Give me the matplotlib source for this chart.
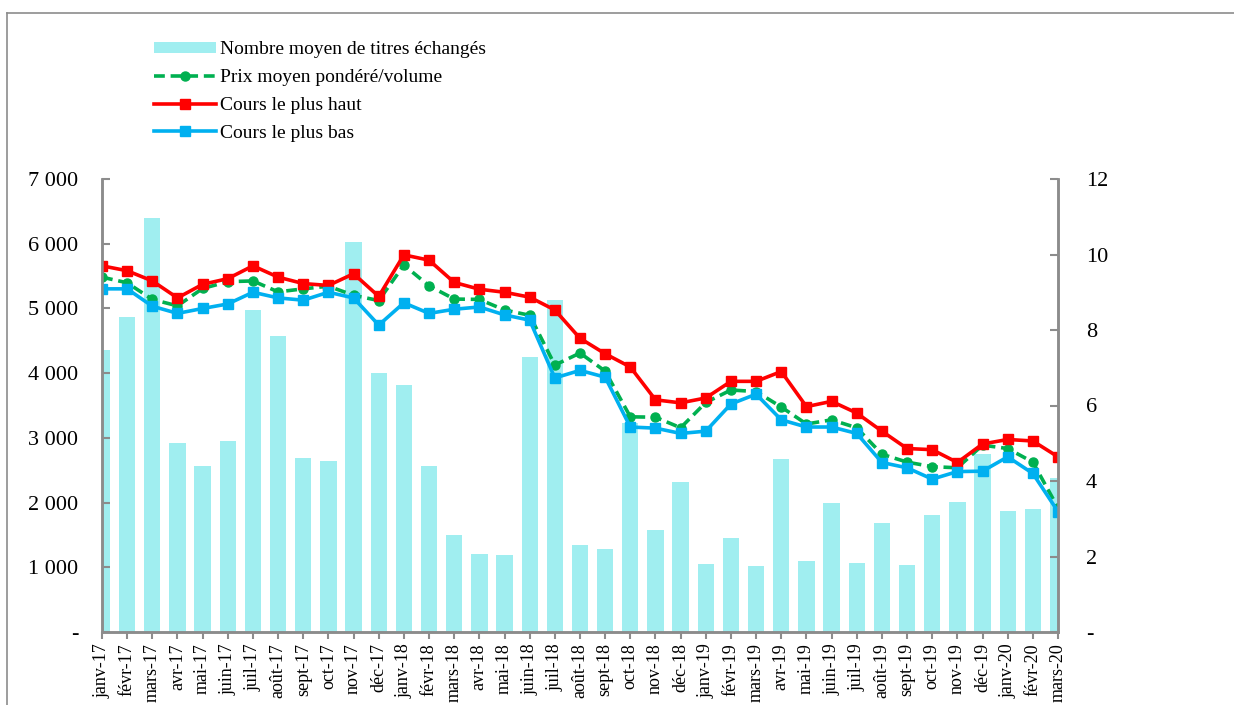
import numpy as np
import matplotlib
matplotlib.use("Agg")
import matplotlib.pyplot as plt
from matplotlib.ticker import FuncFormatter, MultipleLocator
from matplotlib.lines import Line2D
from matplotlib.patches import Patch

plt.rcParams['font.family'] = ['Liberation Serif', 'DejaVu Serif']

# Months (janv-17 .. mars-20)
mois = ["janv-17", "févr-17", "mars-17", "avr-17", "mai-17", "juin-17", "juil-17", "août-17",
        "sept-17", "oct-17", "nov-17", "déc-17",
        "janv-18", "févr-18", "mars-18", "avr-18", "mai-18", "juin-18", "juil-18", "août-18",
        "sept-18", "oct-18", "nov-18", "déc-18",
        "janv-19", "févr-19", "mars-19", "avr-19", "mai-19", "juin-19", "juil-19", "août-19",
        "sept-19", "oct-19", "nov-19", "déc-19",
        "janv-20", "févr-20", "mars-20"]

# Nombre moyen de titres échangés (left axis)
titres = [4360, 4870, 6400, 2920, 2570, 2950, 4980, 4580, 2690, 2640, 6030, 4000,
          3820, 2570, 1500, 1210, 1190, 4250, 5130, 1345, 1285, 3230, 1580, 2320,
          1050, 1450, 1020, 2675, 1100, 1995, 1065, 1685, 1035, 1810, 2010, 2750,
          1870, 1900, 2380]

# Prices (right axis)
prix_moyen = [9.40, 9.25, 8.81, 8.64, 9.10, 9.28, 9.30, 9.01, 9.09, 9.16, 8.92, 8.78,
              9.72, 9.17, 8.82, 8.81, 8.53, 8.39, 7.07, 7.39, 6.91, 5.70, 5.69, 5.41,
              6.08, 6.41, 6.37, 5.96, 5.51, 5.62, 5.41, 4.71, 4.50, 4.38, 4.35, 4.95,
              4.86, 4.50, 3.29]
cours_haut = [9.70, 9.57, 9.30, 8.85, 9.21, 9.36, 9.70, 9.40, 9.23, 9.18, 9.49, 8.89,
              9.99, 9.85, 9.26, 9.08, 9.00, 8.87, 8.53, 7.78, 7.37, 7.02, 6.15, 6.07,
              6.20, 6.64, 6.64, 6.90, 5.97, 6.11, 5.80, 5.32, 4.86, 4.83, 4.49, 4.98,
              5.10, 5.06, 4.64]
cours_bas = [9.09, 9.09, 8.63, 8.44, 8.57, 8.69, 9.00, 8.85, 8.79, 9.00, 8.85, 8.13,
             8.72, 8.44, 8.55, 8.61, 8.40, 8.26, 6.73, 6.93, 6.75, 5.43, 5.40, 5.26,
             5.32, 6.04, 6.30, 5.62, 5.43, 5.43, 5.26, 4.49, 4.35, 4.05, 4.25, 4.26,
             4.64, 4.20, 3.19]

c_bar = "#A0EEF0"
c_vert = "#00B050"
c_rouge = "#FF0000"
c_bleu = "#00B0F0"
c_axe = "#8C8C8C"

fig = plt.figure(figsize=(12.34, 7.05), dpi=100)
ax = fig.add_axes([102 / 1234, 1 - 632 / 705, 956 / 1234, 453 / 705])
ax2 = ax.twinx()

x = np.arange(len(mois))
ax.bar(x, titres, width=0.65, color=c_bar, zorder=1)

ax2.plot(x, prix_moyen, color=c_vert, lw=2.6, ls=(0, (3, 1.6)), marker="o", ms=6.5)
ax2.plot(x, cours_haut, color=c_rouge, lw=2.6, marker="s", ms=7)
ax2.plot(x, cours_bas, color=c_bleu, lw=2.6, marker="s", ms=7)

ax.set_xlim(0, len(mois) - 1)
ax.set_ylim(0, 7000)
ax2.set_ylim(0, 12)
ax.yaxis.set_major_locator(MultipleLocator(1000))
ax2.yaxis.set_major_locator(MultipleLocator(2))


def fmt_gauche(v, pos):
    if v == 0:
        return "-"
    return f"{int(v):,}".replace(",", " ")


def fmt_droite(v, pos):
    if v == 0:
        return "-"
    return f"{int(v)}"


ax.yaxis.set_major_formatter(FuncFormatter(fmt_gauche))
ax2.yaxis.set_major_formatter(FuncFormatter(fmt_droite))

ax.set_xticks(x)
ax.set_xticklabels(mois, rotation=90, fontsize=13)

for a in (ax, ax2):
    a.spines["top"].set_visible(False)
    for s in ("left", "right", "bottom"):
        a.spines[s].set_color(c_axe)
        a.spines[s].set_linewidth(1.8)
ax.tick_params(axis="y", direction="in", length=6, width=1.5, color=c_axe, labelsize=16, pad=17)
ax2.tick_params(axis="y", direction="in", length=6, width=1.5, color=c_axe, labelsize=16, pad=20)
ax.tick_params(axis="x", direction="out", length=5, width=1.5, color=c_axe, pad=3)

# Legend
handles = [
    Patch(facecolor=c_bar, edgecolor="none"),
    Line2D([], [], color=c_vert, lw=2.6, ls=(0, (3, 1.6)), marker="o", ms=6.5),
    Line2D([], [], color=c_rouge, lw=2.6, marker="s", ms=7),
    Line2D([], [], color=c_bleu, lw=2.6, marker="s", ms=7),
]
labels = ["Nombre moyen de titres échangés", "Prix moyen pondéré/volume",
          "Cours le plus haut", "Cours le plus bas"]
fig.legend(handles, labels, loc="upper left", bbox_to_anchor=(136 / 1234, 1 - 24 / 705),
           frameon=False, fontsize=14, handlelength=3.2, handleheight=0.55,
           handletextpad=0.2, labelspacing=0.55)

# Outer frame
fig.add_artist(Line2D([7 / 1234, 7 / 1234], [0, 1 - 13 / 705], transform=fig.transFigure,
                      color=c_axe, lw=1.2))
fig.add_artist(Line2D([7 / 1234, 1], [1 - 13 / 705, 1 - 13 / 705], transform=fig.transFigure,
                      color=c_axe, lw=1.2))

fig.savefig("out.png", dpi=100)
